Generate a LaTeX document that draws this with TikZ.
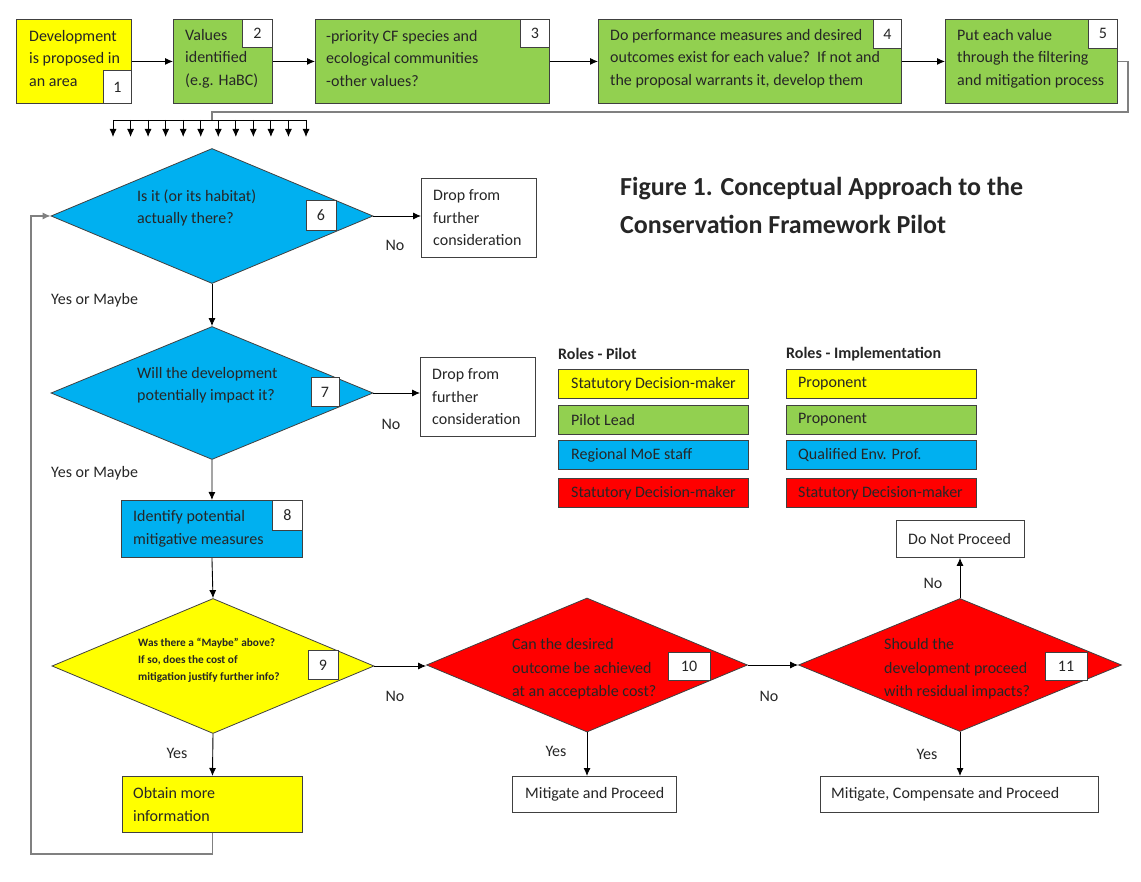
\documentclass[tikz,border=0pt]{standalone}
\usepackage{fontspec}
\setmainfont{Carlito}
\usetikzlibrary{shapes.geometric,arrows.meta,calc}
\definecolor{cyel}{HTML}{FFFF00}
\definecolor{cgrn}{HTML}{92D050}
\definecolor{cblu}{HTML}{00B0F0}
\definecolor{cred}{HTML}{FF0000}
\definecolor{ctxt}{HTML}{262626}
\definecolor{cline}{HTML}{808080}
\begin{document}
\begin{tikzpicture}[x=1pt,y=-1pt,
  txt/.style={font=\fontsize{16}{22.5}\selectfont, text=ctxt, align=left, inner sep=0pt},
  smalltxt/.style={font=\fontsize{11.3}{17}\selectfont\bfseries, text=ctxt, align=left, inner sep=0pt},
  hdr/.style={font=\fontsize{16}{19}\selectfont\bfseries, text=ctxt, inner sep=0pt},
  ttl/.style={font=\fontsize{26}{38}\selectfont\bfseries, text=ctxt, align=left, inner sep=0pt},
  boxx/.style={draw=black!75, line width=0.9pt, rectangle, inner sep=0pt, anchor=north west},
  numbox/.style={draw=black!75, fill=white, line width=0.8pt, inner sep=0pt, font=\fontsize{16}{18}\selectfont, text=ctxt},
  dia/.style={diamond, draw=black!75, line width=0.8pt, inner sep=0pt, minimum width=322pt, minimum height=135pt},
  arr/.style={-{Latex[length=8pt,width=7pt]}, line width=0.9pt, draw=black},
  garr/.style={-{Latex[length=8pt,width=7pt]}, line width=1.2pt, draw=cline},
  gline/.style={line width=1.2pt, draw=cline},
  lbl/.style={font=\fontsize{16}{18}\selectfont, text=ctxt, inner sep=0pt}
]
\useasboundingbox (0,0) rectangle (1141,882);

% ---- top row
\node[boxx, fill=cyel, minimum width=115pt, minimum height=84pt] (b1) at (16,19) {};
\node[boxx, fill=cgrn, minimum width=99pt, minimum height=84pt] (b2) at (173,19) {};
\node[boxx, fill=cgrn, minimum width=234pt, minimum height=84pt] (b3) at (315,19) {};
\node[boxx, fill=cgrn, minimum width=303pt, minimum height=84pt] (b4) at (598,19) {};
\node[boxx, fill=cgrn, minimum width=172pt, minimum height=84pt] (b5) at (945,19) {};

\node[txt, anchor=west] (t1) at ([xshift=13pt,yshift=3pt]b1.west) {Development\\is proposed in\\an area};
\node[txt, anchor=west] (t2) at ([xshift=12pt,yshift=3pt]b2.west) {Values\\identified\\(e.g. HaBC)};
\node[txt, anchor=west] (t3) at ([xshift=11pt,yshift=3pt]b3.west) {-priority CF species and\\ecological communities\\-other values?};
\node[txt, anchor=west] (t4) at ([xshift=12pt,yshift=3pt]b4.west) {Do performance measures and desired\\outcomes exist for each value?\ \ If not and\\the proposal warrants it, develop them};
\node[txt, anchor=west] (t5) at ([xshift=12pt,yshift=3pt]b5.west) {Put each value\\through the filtering\\and mitigation process};

\node[numbox, anchor=south east, minimum width=28pt, minimum height=33pt] (n1) at (b1.south east) {1};
\node[numbox, anchor=north east, minimum width=30pt, minimum height=28pt] (n2) at (b2.north east) {2};
\node[numbox, anchor=north east, minimum width=29pt, minimum height=28pt] (n3) at (b3.north east) {3};
\node[numbox, anchor=north east, minimum width=28pt, minimum height=29pt] (n4) at (b4.north east) {4};
\node[numbox, anchor=north east, minimum width=29pt, minimum height=29pt] (n5) at (b5.north east) {5};

\draw[arr] (b1.east) -- (b2.west);
\draw[arr] (b2.east) -- (b3.west);
\draw[arr] (b3.east) -- (b4.west);
\draw[arr] (b4.east) -- (b5.west);

% ---- return line and distribution bar
\coordinate (turn) at (212,112);
\coordinate (barc) at (212,120);
\coordinate (barl) at (113,120);
\coordinate (barr) at (306,120);
\draw[gline] (b5.east) -- ++(10,0) |- (turn) -- (barc);
\draw[line width=0.9pt] (barl) -- (barr);
\foreach \i in {0,...,11} {
  \draw[arr] ($(barl)!\i/11!(barr)$) -- ++(0,17);
}

% ---- title
\node[ttl, anchor=west] (title) at (620,205) {Figure 1. Conceptual Approach to the\\Conservation Framework Pilot};

% ---- diamonds
\node[dia, fill=cblu] (d6) at (212,216) {};
\node[dia, fill=cblu, minimum height=133pt] (d7) at (212,393) {};
\node[dia, fill=cyel] (d9) at (213,666) {};
\node[dia, fill=cred, minimum width=321pt, minimum height=134pt] (d10) at (587,665) {};
\node[dia, fill=cred, minimum width=323pt, minimum height=133pt] (d11) at (960,665) {};

\node[txt, anchor=west] (t6) at (137,208) {Is it (or its habitat)\\actually there?};
\node[txt, anchor=west] (t7) at (137,385) {Will the development\\potentially impact it?};
\node[smalltxt, anchor=west] (t9) at (138,660) {Was there a “Maybe” above?\\If so, does the cost of\\mitigation justify further info?};
\node[txt, anchor=west, font=\fontsize{16}{23.5}\selectfont] (t10) at (512,669) {Can the desired\\outcome be achieved\\at an acceptable cost?};
\node[txt, anchor=west, font=\fontsize{16}{23.5}\selectfont] (t11) at (884,669) {Should the\\development proceed\\with residual impacts?};

\node[numbox, minimum width=30pt, minimum height=30pt] (n6) at (321,215) {6};
\node[numbox, minimum width=28pt, minimum height=29pt] (n7) at (325,392) {7};
\node[numbox, minimum width=30pt, minimum height=29pt] (n9) at (323,665) {9};
\node[numbox, minimum width=42pt, minimum height=28pt] (n10) at (689,666) {10};
\node[numbox, minimum width=42pt, minimum height=28pt] (n11) at (1066,666) {11};

% ---- other boxes
\node[boxx, fill=white, minimum width=115pt, minimum height=79pt] (dr1) at (421,178) {};
\node[txt, anchor=west] (tdr1) at ([xshift=12pt]dr1.west) {Drop from\\further\\consideration};
\node[boxx, fill=white, minimum width=115pt, minimum height=79pt] (dr2) at (420,357) {};
\node[txt, anchor=west] (tdr2) at ([xshift=12pt]dr2.west) {Drop from\\further\\consideration};

\node[boxx, fill=cblu, minimum width=181pt, minimum height=57pt] (b8) at (121,500) {};
\node[txt, anchor=west] (t8) at ([xshift=12pt]b8.west) {Identify potential\\mitigative measures};
\node[numbox, anchor=north east, minimum width=30pt, minimum height=30pt] (n8) at (b8.north east) {8};

\node[boxx, fill=cyel, minimum width=180pt, minimum height=56pt] (ob) at (122,776) {};
\node[txt, anchor=west] (tob) at ([xshift=11pt]ob.west) {Obtain more\\information};

\node[boxx, fill=white, minimum width=128pt, minimum height=37pt] (dnp) at (896,520) {};
\node[txt, anchor=west] (tdnp) at ([xshift=12pt]dnp.west) {Do Not Proceed};
\node[boxx, fill=white, minimum width=164pt, minimum height=36pt] (mp) at (512,776) {};
\node[txt, anchor=west] (tmp) at ([xshift=13pt]mp.west) {Mitigate and Proceed};
\node[boxx, fill=white, minimum width=278pt, minimum height=36pt] (mcp) at (820,776) {};
\node[txt, anchor=west] (tmcp) at ([xshift=11pt]mcp.west) {Mitigate, Compensate and Proceed};

% ---- legend
\node[hdr, anchor=west] (hl) at (558,354) {Roles - Pilot};
\node[hdr, anchor=west] (hr) at (786,354) {Roles - Implementation};
\node[boxx, fill=cyel, minimum width=190pt, minimum height=29pt] (l1) at (558,369) {};
\node[boxx, fill=cgrn, minimum width=190pt, minimum height=29pt] (l2) at (558,405) {};
\node[boxx, fill=cblu, minimum width=190pt, minimum height=29pt] (l3) at (558,440) {};
\node[boxx, fill=cred, minimum width=190pt, minimum height=29pt] (l4) at (558,478) {};
\node[boxx, fill=cyel, minimum width=190pt, minimum height=29pt] (r1) at (786,369) {};
\node[boxx, fill=cgrn, minimum width=190pt, minimum height=29pt] (r2) at (786,405) {};
\node[boxx, fill=cblu, minimum width=190pt, minimum height=29pt] (r3) at (786,440) {};
\node[boxx, fill=cred, minimum width=190pt, minimum height=29pt] (r4) at (786,478) {};
\node[txt, anchor=west] (tl1) at ([xshift=13pt]l1.west) {Statutory Decision-maker};
\node[txt, anchor=west] (tl2) at ([xshift=13pt]l2.west) {Pilot Lead};
\node[txt, anchor=west] (tl3) at ([xshift=13pt]l3.west) {Regional MoE staff};
\node[txt, anchor=west] (tl4) at ([xshift=13pt]l4.west) {Statutory Decision-maker};
\node[txt, anchor=west] (tr1) at ([xshift=12pt]r1.west) {Proponent};
\node[txt, anchor=west] (tr2) at ([xshift=12pt]r2.west) {Proponent};
\node[txt, anchor=west] (tr3) at ([xshift=12pt]r3.west) {Qualified Env. Prof.};
\node[txt, anchor=west] (tr4) at ([xshift=12pt]r4.west) {Statutory Decision-maker};

% ---- connectors
\draw[arr] (d6.south) -- (d7.north);
\draw[arr] (d6.east) -- (d6.east -| dr1.west);
\draw[arr] (d7.south) -- (b8.north);
\draw[arr] (d7.east) -- (d7.east -| dr2.west);
\draw[arr] (b8.south) -- (d9.north);
\draw[arr] (d9.east) -- (d9.east -| d10.west);
\draw[arr] (d10.east) -- (d10.east -| d11.west);
\draw[arr] (d9.south) -- (ob.north);
\draw[arr] (d10.south) -- (d10.south |- mp.north);
\draw[arr] (d11.south) -- (d11.south |- mcp.north);
\draw[arr] (d11.north) -- (d11.north |- dnp.south);
\coordinate (loopc) at (31,854);
\draw[garr] (ob.south) |- (loopc) |- (d6.west);

% ---- labels
\node[lbl, anchor=west] (ym1) at (51,300) {Yes or Maybe};
\node[lbl, anchor=west] (ym2) at (51,473) {Yes or Maybe};
\node[lbl] (no6) at (395,245) {No};
\node[lbl] (no7) at (391,424) {No};
\node[lbl] (no9) at (395,696) {No};
\node[lbl] (no10) at (769,696) {No};
\node[lbl] (no11) at (933,583) {No};
\node[lbl] (y9) at (177,753) {Yes};
\node[lbl] (y10) at (556,751) {Yes};
\node[lbl] (y11) at (927,754) {Yes};
\end{tikzpicture}
\end{document}
